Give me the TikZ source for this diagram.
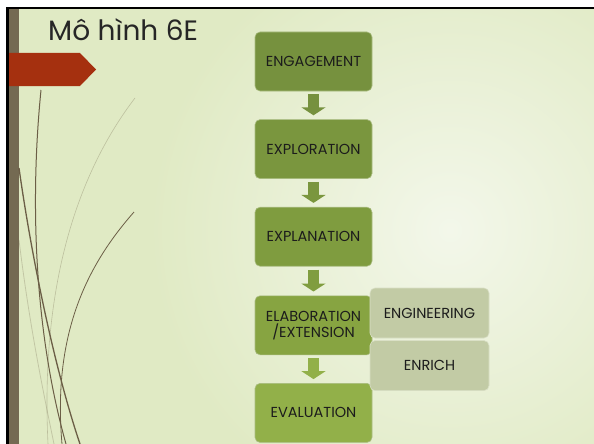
\documentclass[tikz,border=0pt]{standalone}
\usepackage{fontspec}
\setmainfont{Poppins}
\usetikzlibrary{positioning,arrows.meta}

\definecolor{slidebg}{HTML}{E0EAC4}
\definecolor{bgglow}{HTML}{F3F7EA}
\definecolor{railbrown}{HTML}{746A52}
\definecolor{tabred}{HTML}{A5300F}
\definecolor{titletext}{HTML}{262626}
\definecolor{stagetext}{HTML}{1C1C1C}
\definecolor{stageA}{HTML}{76913E}
\definecolor{stageB}{HTML}{7A963E}
\definecolor{stageC}{HTML}{7F9C3F}
\definecolor{stageD}{HTML}{87A441}
\definecolor{stageE}{HTML}{92B049}
\definecolor{stageline}{HTML}{A9BC80}
\definecolor{sidefill}{HTML}{C2CBA5}
\definecolor{sideline}{HTML}{D9DFC6}
\definecolor{stem}{HTML}{6B5E46}

\begin{document}
\begin{tikzpicture}[x=1pt,y=-1pt,
    stage/.style={draw=stageline,line width=0.6pt,rounded corners=5pt,
      minimum width=117pt,minimum height=59pt,inner sep=2pt,align=center,
      text=stagetext,font=\fontsize{14.5}{16}\selectfont},
    side/.style={stage,fill=sidefill,draw=sideline,minimum width=119pt,minimum height=50pt},
    flow/.style={line width=11pt,-{Triangle[width=24pt,length=8pt]},
      shorten <=3pt,shorten >=4pt}
  ]
  \useasboundingbox (0,0) rectangle (594,444);
  % slide background
  \begin{scope}
    \clip (19,9) rectangle (594,444);
    \fill[slidebg] (19,9) rectangle (594,444);
    \shade[inner color=bgglow,outer color=slidebg] (450,230) circle (300);
  \end{scope}
  \fill[black] (6,7) rectangle (594,9);
  \fill[black] (6,7) rectangle (9,444);
  \fill[railbrown] (9,9) rectangle (19,444);

  % grass stems
  \draw[stem,line width=1.3pt] (19,168) .. controls (32,260) and (55,370) .. (80,444);
  \draw[stem,line width=1pt] (41,90) .. controls (30,200) and (34,330) .. (66,444);
  \draw[stem,line width=0.8pt] (134,212) .. controls (90,262) and (52,330) .. (62,444);
  \draw[stem,line width=0.6pt,opacity=0.3] (135,98) .. controls (80,170) and (40,280) .. (48,444);
  \draw[stem,line width=0.8pt,opacity=0.25] (19,240) .. controls (30,330) and (45,400) .. (54,444);

  \fill[tabred] (9,53) -- (80,53) -- (96,69.5) -- (80,86) -- (9,86) -- cycle;
  \node[anchor=base west,inner sep=0pt,text=titletext,font=\fontsize{28}{28}\selectfont]
    (title) at (48,41) {Mô hình 6E};

  % stages
  \node[stage,fill=stageA] (eng) at (313.5,61.5) {ENGAGEMENT};
  \node[stage,fill=stageB,below=28pt of eng] (exo) {EXPLORATION};
  \node[stage,fill=stageC,below=28pt of exo] (exa) {EXPLANATION};
  \node[stage,fill=stageD,below=29pt of exa] (ela) {ELABORATION\\/EXTENSION};
  \node[stage,fill=stageE,below=28pt of ela] (eva) {EVALUATION};

  \node[side] (engr) at (429.5,313) {ENGINEERING};
  \node[side,below=2pt of engr] (enr) {ENRICH};

  \draw[flow,stageA] (eng) -- (exo);
  \draw[flow,stageB] (exo) -- (exa);
  \draw[flow,stageC!90!stageD] (exa) -- (ela);
  \draw[flow,stageE] (ela) -- (eva);
\end{tikzpicture}
\end{document}
